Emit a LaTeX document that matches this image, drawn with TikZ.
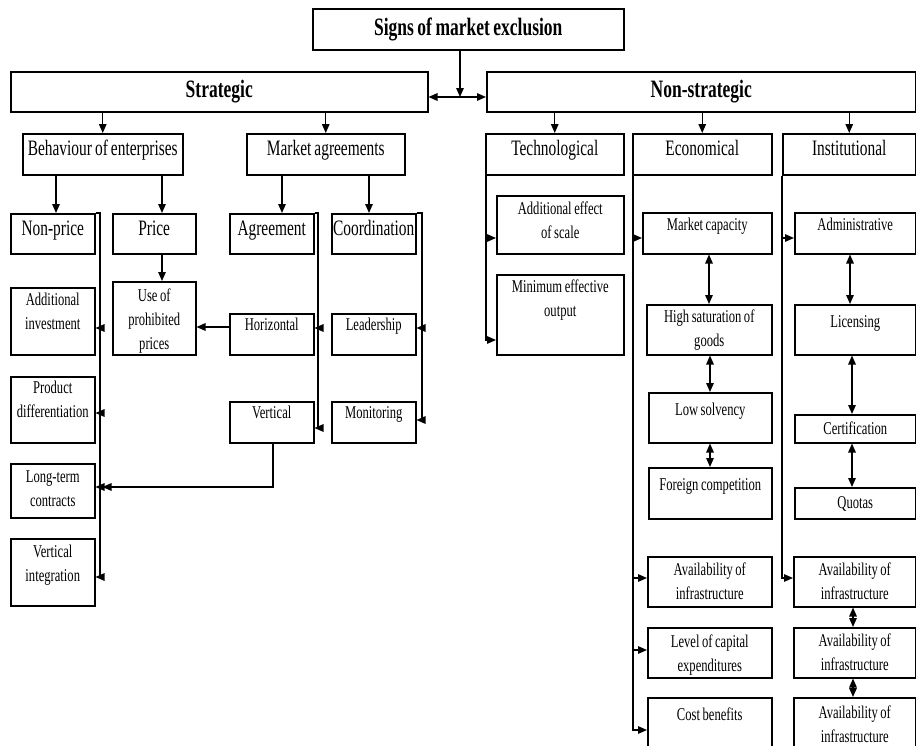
\documentclass[tikz,border=0pt]{standalone}
\usepackage{fontspec}
\setmainfont{Liberation Serif}[FakeStretch=0.7,WordSpace=0.8]
\usetikzlibrary{arrows.meta,calc}
\tikzset{
  box/.style={draw, line width=1.5pt, inner sep=0pt, anchor=north west, align=flush center,
    font=\fontsize{18}{24}\selectfont},
  big/.style={font=\fontsize{22}{26}\selectfont},
  title/.style={draw, line width=1.5pt, inner sep=0pt, anchor=north west,
    font=\fontsize{25}{30}\selectfont\bfseries},
  ln/.style={line width=1.4pt},
  arr/.style={line width=1.4pt, -{Triangle[length=9pt,width=7.5pt]}},
  darr/.style={line width=1.4pt, {Triangle[length=9pt,width=7.5pt]}-{Triangle[length=9pt,width=7.5pt]}},
}
\begin{document}
\begin{tikzpicture}[x=1pt,y=-1pt]
\useasboundingbox (0,0) rectangle (916,745);
\clip (0,0) rectangle (916,745);
\fill[white] (0,0) rectangle (916,745);

% ---- top levels
\node[title, minimum width=311, minimum height=41] (signs) at (312,8) {Signs of market exclusion};
\node[title, minimum width=417, minimum height=40] (strat) at (10,71) {Strategic};
\node[title, minimum width=429, minimum height=40] (nonstrat) at (486,71) {Non-strategic};

\node[box, big, text width=160, text height=22, text depth=19] (beh) at (22,133) {Behaviour of enterprises};
\node[box, big, text width=158, text height=22, text depth=19] (magr) at (246,133) {Market agreements};
\node[box, big, text width=138, text height=22, text depth=19] (tech) at (485,133) {Technological};
\node[box, big, text width=139, text height=22, text depth=19] (econ) at (632,133) {Economical};
\node[box, big, text width=133, text height=22, text depth=19] (inst) at (782,133) {Institutional};

% ---- strategic side
\node[box, big, text width=84, text height=22, text depth=18] (np) at (10,213) {Non-price};
\node[box, big, text width=83, text height=22, text depth=18] (price) at (112,213) {Price};
\node[box, big, text width=84, text height=22, text depth=18] (agr) at (229,213) {Agreement};
\node[box, big, text width=84, text height=22, text depth=18] (coord) at (331,213) {Coordination};

\node[box, text width=84, text height=18, text depth=49] (ai) at (10,287) {Additional\\investment};
\node[box, text width=84, text height=17, text depth=49] (pd) at (10,376) {Product\\differentiation};
\node[box, text width=84, text height=19, text depth=35] (ltc) at (10,463) {Long-term\\contracts};
\node[box, text width=84, text height=19, text depth=48] (vi) at (10,538) {Vertical\\integration};
\node[box, text width=83, text height=20, text depth=53] (use) at (112,281) {Use of\\prohibited\\prices};
\node[box, text width=84, text height=17, text depth=24] (hor) at (229,313) {Horizontal};
\node[box, text width=84, text height=17, text depth=24] (vert) at (229,401) {Vertical};
\node[box, text width=84, text height=17, text depth=24] (lead) at (331,313) {Leadership};
\node[box, text width=84, text height=17, text depth=24] (mon) at (331,401) {Monitoring};

% ---- non-strategic side
\node[box, text width=127, text height=19, text depth=39] (aes) at (496,195) {Additional effect\\of scale};
\node[box, text width=127, text height=18, text depth=62] (meo) at (496,274) {Minimum effective\\output};

\node[box, text width=129, text height=18, text depth=23] (mc) at (642,212) {Market capacity};
\node[box, text width=125, text height=18, text depth=32] (hs) at (646,304) {High saturation of\\goods};
\node[box, text width=123, text height=23, text depth=27] (ls) at (648,392) {Low solvency};
\node[box, text width=123, text height=23, text depth=28] (fc) at (648,467) {Foreign competition};
\node[box, text width=124, text height=19, text depth=31] (ae1) at (647,556) {Availability of\\infrastructure};
\node[box, text width=124, text height=20, text depth=30] (lce) at (647,627) {Level of capital\\expenditures};
\node[box, text width=124, text height=23, text depth=32] (cb) at (647,697) {Cost benefits};

\node[box, text width=121, text height=18, text depth=23] (adm) at (794,212) {Administrative};
\node[box, text width=121, text height=23, text depth=27] (lic) at (794,304) {Licensing};
\node[box, text width=121, text height=20, text depth=8] (cert) at (794,414) {Certification};
\node[box, text width=121, text height=21, text depth=10] (quo) at (794,487) {Quotas};
\node[box, text width=122, text height=19, text depth=31] (ai1) at (793,556) {Availability of\\infrastructure};
\node[box, text width=122, text height=19, text depth=31] (ai2) at (793,627) {Availability of\\infrastructure};
\node[box, text width=122, text height=21, text depth=34] (ai3) at (793,697) {Availability of\\infrastructure};

% ---- helper coordinates
\coordinate (split) at (460,97);
\coordinate (npx) at (56,0);
\coordinate (prx) at (162,0);
\coordinate (agx) at (282,0);
\coordinate (cox) at (369,0);
\coordinate (vtx) at (273,0);
\coordinate (npb) at (100,0);
\coordinate (agb) at (318,0);
\coordinate (cob) at (422,0);
\coordinate (tb) at (486,0);
\coordinate (eb) at (633,0);
\coordinate (ib) at (782,0);
\coordinate (hy) at (0,327);
\coordinate (ly) at (0,328);
\coordinate (aiy) at (0,328);
\coordinate (pdy) at (0,413);
\coordinate (ltcy) at (0,487);
\coordinate (viy) at (0,577);
\coordinate (vty) at (0,428);
\coordinate (mny) at (0,420);
\coordinate (ry) at (0,238);
\coordinate (meoy) at (0,340);
\coordinate (ae1y) at (0,578);
\coordinate (lcey) at (0,650);
\coordinate (cby) at (0,730);
\coordinate (xa) at (709,0);
\coordinate (xb) at (710,0);
\coordinate (xc) at (850,0);
\coordinate (xd) at (852,0);
\coordinate (xe) at (853,0);

% ---- top connectors
\draw[arr] (signs.south -| split) -- (split);
\draw[arr] (split) -- (split -| strat.east);
\draw[arr] (split) -- (split -| nonstrat.west);

\draw[arr] (strat.south -| beh.north) -- (beh.north);
\draw[arr] (strat.south -| magr.north) -- (magr.north);
\draw[arr] (nonstrat.south -| tech.north) -- (tech.north);
\draw[arr] (nonstrat.south -| econ.north) -- (econ.north);
\draw[arr] (nonstrat.south -| inst.north) -- (inst.north);

\draw[arr] (beh.south -| npx) -- (np.north -| npx);
\draw[arr] (beh.south -| prx) -- (price.north -| prx);
\draw[arr] (magr.south -| agx) -- (agr.north -| agx);
\draw[arr] (magr.south -| cox) -- (coord.north -| cox);
\draw[arr] (price.south -| prx) -- (use.north -| prx);
\draw[arr] (hor.west |- hy) -- (use.east |- hy);

% non-price bus
\draw[arr] (np.north east) -- (np.north east -| npb) -- (npb |- viy) -- (vi.east |- viy);
\draw[arr] (npb |- aiy) -- (ai.east |- aiy);
\draw[arr] (npb |- pdy) -- (pd.east |- pdy);
\draw[arr] (npb |- ltcy) -- (ltc.east |- ltcy);

% agreement bus
\draw[arr] (agr.north east) -- (agr.north east -| agb) -- (agb |- vty) -- (vert.east |- vty);
\draw[arr] (agb |- ly) -- (hor.east |- ly);
% coordination bus
\draw[arr] (coord.north east) -- (coord.north east -| cob) -- (cob |- mny) -- (mon.east |- mny);
\draw[arr] (cob |- ly) -- (lead.east |- ly);

% vertical -> long-term contracts
\draw[arr, shorten >=7pt] (vert.south -| vtx) -- (vtx |- ltcy) -- (ltc.east |- ltcy);

% technological bus
\draw[arr] (tech.south -| tb) -- (tb |- meoy) -- (meo.west |- meoy);
\draw[arr] (tb |- ry) -- (aes.west |- ry);

% economical bus
\draw[arr] (econ.south -| eb) -- (eb |- cby) -- (cb.west |- cby);
\draw[arr] (eb |- ry) -- (mc.west |- ry);
\draw[arr] (eb |- ae1y) -- (ae1.west |- ae1y);
\draw[arr] (eb |- lcey) -- (lce.west |- lcey);

% institutional bus
\draw[arr] (inst.south -| ib) -- (ib |- ae1y) -- (ai1.west |- ae1y);
\draw[arr] (ib |- ry) -- (adm.west |- ry);

% double arrows
\draw[darr] (mc.south -| xa) -- (hs.north -| xa);
\draw[darr] (hs.south -| xb) -- (ls.north -| xb);
\draw[darr] (ls.south -| xb) -- (fc.north -| xb);
\draw[darr] (adm.south -| xc) -- (lic.north -| xc);
\draw[darr] (lic.south -| xd) -- (cert.north -| xd);
\draw[darr] (cert.south -| xd) -- (quo.north -| xd);
\draw[darr] (ai1.south -| xe) -- (ai2.north -| xe);
\draw[darr] (ai2.south -| xe) -- (ai3.north -| xe);
\end{tikzpicture}
\end{document}
